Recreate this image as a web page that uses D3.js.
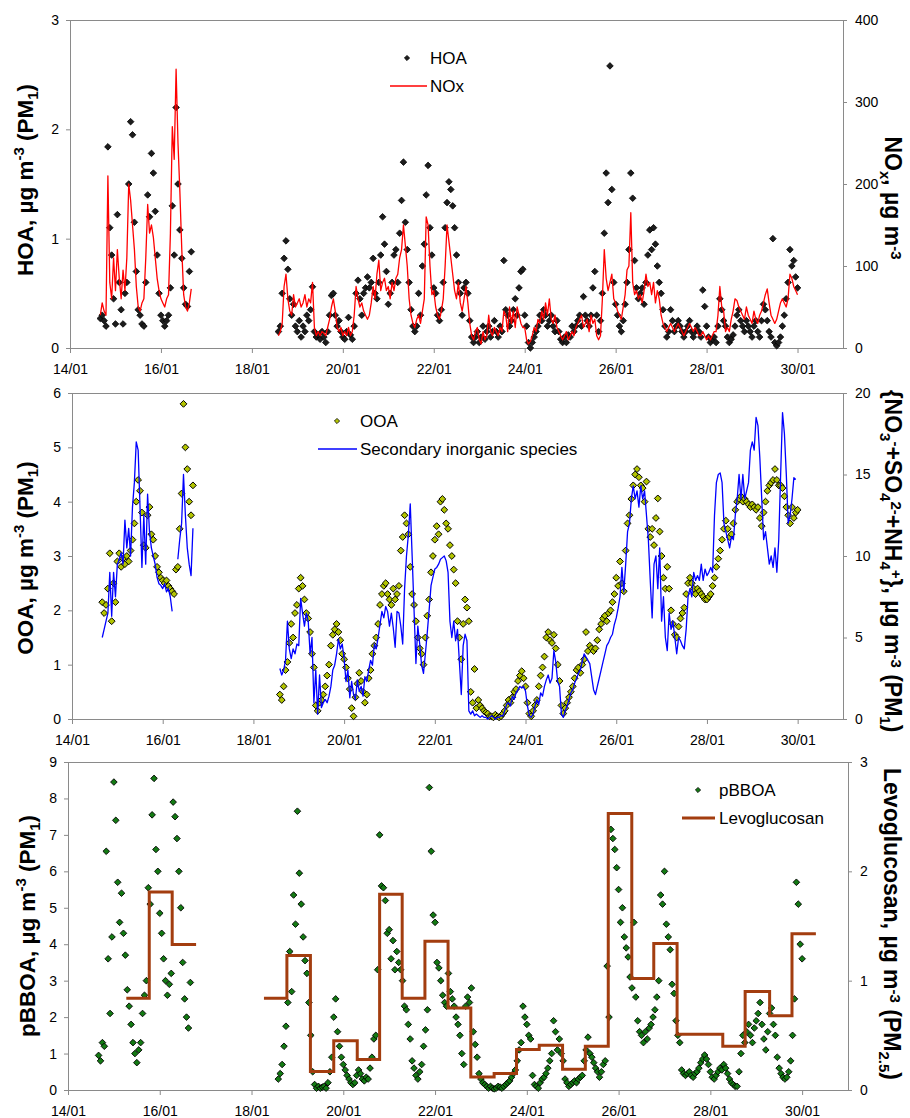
<!DOCTYPE html>
<html><head><meta charset="utf-8">
<script src="https://cdn.jsdelivr.net/npm/d3@7"></script>
<style>
body{margin:0;background:#fff;}
svg text{font-family:"Liberation Sans",Arial,sans-serif;fill:#000;}
</style></head><body>
<svg id="chart" width="910" height="1118"></svg>
<script>
// ---------- DATA (hours since 14/01 00:00, hourly values) ----------
const tickHours  = [0, 48, 96, 144, 192, 240, 288, 336, 384];
const tickLabels = ["14/01","16/01","18/01","20/01","22/01","24/01","26/01","28/01","30/01"];
const seg1Start = 16;   // 14/01 16:00
const seg2Start = 110;  // 18/01 14:00

// HOA, µg m-3
const hoa1 = [0.27,0.3,0.25,0.2,1.84,1.1,0.85,0.45,0.22,1.22,0.6,0.35,
 0.22,0.5,0.6,1.5,2.07,1.95,1.15,0.7,0.35,0.3,0.22,0.2,
 0.6,1.4,1.2,1.78,1.6,1.25,0.85,0.5,0.3,0.25,0.2,0.25,
 0.3,0.55,1.3,0.85,2.2,1.5,1.08,0.82,0.55,0.4,0.38,0.7,0.88];
const hoa2 = [0.15,0.2,0.5,0.82,0.98,0.72,0.45,0.3,0.4,0.2,0.15,0.25,
 0.1,0.2,0.15,0.3,0.25,0.35,0.56,0.15,0.1,0.12,0.08,0.15,
 0.1,0.05,0.15,0.3,0.48,0.5,0.3,0.2,0.25,0.15,0.1,0.08,
 0.15,0.28,0.12,0.08,0.2,0.5,0.62,0.45,0.3,0.5,0.55,0.65,
 0.55,0.6,0.82,0.5,0.45,0.6,0.85,1.2,0.95,0.7,0.4,0.5,
 0.6,0.85,0.9,0.6,1.05,1.35,1.7,1.15,0.9,0.6,0.35,0.2,
 0.15,0.2,0.5,0.3,0.75,0.95,1.4,1.67,1.1,0.85,0.55,0.5,
 0.3,0.25,0.35,0.6,1.1,1.33,1.52,1.45,1.3,1.1,0.85,0.6,
 0.5,0.3,0.55,0.6,0.5,0.25,0.1,0.05,0.1,0.15,0.05,0.1,
 0.2,0.08,0.15,0.2,0.1,0.15,0.25,0.15,0.1,0.2,0.15,0.8,
 0.35,0.3,0.2,0.25,0.35,0.45,0.3,0.55,0.7,0.72,0.3,0.2,
 0.05,0.0,0.05,0.1,0.15,0.2,0.3,0.25,0.35,0.3,0.2,0.25,
 0.3,0.2,0.15,0.25,0.15,0.08,0.05,0.1,0.05,0.12,0.1,0.2,
 0.15,0.2,0.25,0.3,0.2,0.47,0.3,0.25,0.2,0.3,0.55,0.7,
 0.3,0.15,0.25,0.5,1.05,1.6,1.33,2.58,1.45,0.6,0.4,0.3,
 0.2,0.15,0.25,0.4,0.6,0.9,1.6,1.37,0.8,0.55,0.45,0.5,
 0.55,0.4,0.6,0.85,1.08,0.9,1.1,0.95,0.75,0.6,0.5,0.35,
 0.2,0.1,0.15,0.35,0.25,0.15,0.2,0.25,0.2,0.15,0.1,0.15,
 0.2,0.25,0.15,0.1,0.15,0.2,0.15,0.1,0.53,0.38,0.2,0.1,
 0.05,0.08,0.1,0.05,0.2,0.45,0.35,0.25,0.2,0.1,0.05,0.08,
 0.12,0.2,0.3,0.35,0.25,0.2,0.15,0.25,0.2,0.15,0.1,0.2,
 0.25,0.15,0.1,0.25,0.4,0.35,0.25,0.15,0.1,1.0,0.05,0.02,
 0.05,0.1,0.2,0.3,0.45,0.6,0.9,0.75,0.8,0.65,0.55];

// NOx, µg m-3
const nox1 = [40,55,45,40,210,80,60,110,70,120,85,60,
 95,70,110,200,180,150,120,75,50,45,55,60,
 110,175,140,150,135,110,85,70,60,55,50,60,
 65,140,270,230,340,250,190,120,65,50,45,55,72];
const nox2 = [15,20,30,75,90,60,45,40,65,50,55,60,
 50,55,65,50,60,55,80,25,15,20,15,20,
 18,15,25,35,50,60,45,25,20,25,15,20,
 15,25,15,20,40,75,60,50,55,45,40,35,
 40,55,75,60,90,107,70,80,85,70,75,60,
 80,70,85,90,110,120,150,125,100,60,40,30,
 25,35,40,30,45,60,160,150,100,65,70,50,
 40,35,45,60,100,150,130,110,90,70,60,80,
 55,45,60,75,55,30,15,10,20,25,10,5,
 20,10,15,40,20,15,25,20,15,25,20,45,
 40,20,50,30,45,25,50,40,30,25,25,10,
 5,8,15,25,20,35,30,45,35,55,40,60,
 35,30,40,25,20,15,10,15,20,10,15,20,
 15,25,30,35,40,25,30,35,20,40,30,35,
 15,10,15,60,120,85,70,80,90,60,55,45,
 40,35,50,65,95,100,165,80,65,70,60,65,
 55,70,90,75,80,65,80,55,70,60,40,30,
 25,20,25,30,25,20,25,30,25,20,15,20,
 25,30,25,20,25,20,15,15,20,15,10,15,
 10,15,20,20,40,75,50,45,20,25,20,35,
 45,60,58,50,45,40,35,50,40,35,30,45,
 35,30,40,45,55,65,72,55,40,35,30,35,
 45,55,60,55,50,60,90,85,75,70,65];

// OOA, µg m-3
const ooa1 = [2.15,1.95,2.1,2.4,3.05,1.8,2.5,2.15,2.9,3.05,2.8,2.95,
 2.85,3.0,2.9,3.1,3.3,3.6,4.0,4.4,4.2,3.8,3.2,3.15,
 3.75,3.9,3.4,3.3,3.0,2.8,2.7,2.6,2.55,2.5,2.55,2.45,
 2.4,2.35,2.3,2.75,2.8,3.5,4.15,5.8,5.0,4.6,4.0,3.75,4.3];
const ooa2 = [0.45,0.35,0.6,0.9,1.05,1.4,1.75,1.5,1.95,2.1,2.4,2.6,
 2.45,2.2,1.95,1.85,1.6,1.2,0.95,0.25,0.15,0.3,0.35,0.45,
 0.6,0.8,1.0,1.35,1.55,1.65,1.75,1.6,1.45,1.2,1.1,0.95,
 0.75,0.55,0.2,0.05,0.4,0.65,0.85,0.7,0.5,0.3,0.45,0.75,
 0.9,1.2,1.35,1.5,1.75,2.1,2.3,2.45,2.5,2.3,2.2,2.1,
 2.4,2.2,2.3,2.45,3.1,3.35,3.75,3.6,3.4,2.8,2.3,2.1,
 1.8,1.5,1.3,1.2,1.0,1.5,1.9,2.2,2.7,3.0,3.3,3.55,
 3.4,4.0,4.05,3.85,3.6,3.5,3.2,3.0,2.75,2.5,1.8,1.5,
 1.1,1.75,2.2,2.05,1.8,0.5,0.3,0.92,0.2,0.35,0.25,0.2,
 0.15,0.12,0.1,0.05,0.05,0.03,0.08,0.05,0.03,0.05,0.1,0.15,
 0.25,0.35,0.3,0.4,0.5,0.55,0.7,0.8,0.88,0.75,0.6,0.3,
 0.1,0.05,0.15,0.25,0.35,0.6,0.8,0.95,1.15,1.5,1.6,1.45,
 1.4,1.55,1.3,1.0,0.7,0.25,0.1,0.2,0.3,0.4,0.5,0.6,
 0.75,0.9,0.95,0.85,1.0,1.1,1.6,1.25,1.35,1.3,1.25,1.3,
 1.45,1.65,1.75,1.85,1.9,1.8,1.95,2.0,2.15,2.3,2.6,2.45,
 2.9,2.5,2.35,3.1,3.6,3.75,4.05,4.3,4.5,4.6,4.45,4.3,
 4.25,4.0,4.37,3.5,3.35,3.5,3.2,3.7,4.06,3.45,3.0,2.6,
 2.4,2.8,2.4,2.0,1.75,1.55,1.5,1.7,1.85,1.95,2.05,2.3,
 2.5,2.6,2.5,2.4,2.3,2.4,2.35,2.3,2.25,2.2,2.2,2.25,
 2.3,2.45,2.6,2.8,2.95,3.1,3.3,3.5,3.65,3.5,3.35,3.4,
 3.6,3.85,4.0,4.05,4.1,4.0,4.05,4.0,3.95,3.9,3.95,3.9,
 3.85,3.9,3.7,3.55,3.8,4.0,4.2,4.3,4.35,4.4,4.6,4.4,
 4.3,4.3,4.25,4.1,3.9,3.75,3.6,3.9,3.7,3.8,3.85];

// Secondary inorganic species {NO3- + SO4 2- + NH4+}, µg m-3
const sia1 = [5.0,5.5,6.0,6.5,9.0,6.3,9.0,7.5,9.5,9.8,10.2,9.5,
 12.2,10.5,11.7,10.0,13.0,14.5,17.0,16.5,13.0,9.3,12.5,9.5,
 13.8,11.5,10.5,10.0,9.5,8.7,8.3,8.2,8.0,8.3,7.8,8.0,
 7.5,6.6,null,null,9.8,11.0,12.0,15.0,12.5,10.5,9.5,8.8,11.7];
const sia2 = [3.1,2.7,3.0,3.6,6.0,4.3,3.7,4.3,4.0,4.6,4.5,7.4,
 6.5,5.7,6.5,6.0,4.0,5.0,1.0,3.0,0.3,2.7,0.7,1.0,
 1.2,1.0,1.4,2.0,3.0,3.3,4.0,4.9,4.3,4.6,3.7,2.3,
 3.0,1.3,2.3,1.5,1.2,2.4,1.7,2.0,1.4,2.6,2.3,3.0,
 3.6,3.3,4.6,4.3,5.0,5.8,6.6,6.2,6.9,6.6,5.7,6.5,
 5.6,4.4,6.6,6.5,5.7,4.6,8.0,10.0,11.3,13.2,10.0,6.7,
 3.4,5.7,4.6,3.3,2.8,4.0,5.3,6.7,8.2,8.7,9.2,9.3,
 9.5,9.8,9.9,10.0,9.7,9.0,6.0,5.0,6.0,4.8,5.5,3.5,
 1.5,4.5,5.2,4.8,0.5,0.3,0.5,0.2,0.3,0.2,0.1,0.2,
 0.1,0.1,0.0,0.1,0.2,0.1,0.0,0.1,0.1,0.2,0.2,0.5,
 0.9,1.0,0.8,1.4,1.2,1.6,1.8,2.0,1.9,2.0,1.7,0.8,
 0.2,0.1,0.3,0.8,1.2,0.9,1.6,1.4,2.0,2.4,2.7,2.2,
 2.5,4.2,3.5,2.3,2.0,0.3,0.1,0.5,0.8,1.2,1.6,1.8,
 2.2,2.5,2.8,3.0,3.5,4.0,3.8,3.6,3.4,2.6,1.8,1.5,
 2.0,2.5,3.0,3.5,4.0,4.5,4.7,5.0,5.2,5.8,6.2,6.8,
 7.5,9.3,7.8,9.5,11.5,12.0,13.5,14.3,13.5,14.0,13.0,14.3,
 13.5,14.0,12.5,11.0,8.5,6.2,9.5,10.0,8.0,10.5,6.0,7.5,
 5.0,4.2,6.5,5.5,6.0,5.0,4.0,5.0,4.8,4.5,4.3,5.5,
 7.5,8.0,7.5,9.0,8.5,8.8,8.5,9.5,8.5,9.2,8.8,9.0,
 9.3,9.0,12.5,14.5,15.0,15.1,14.5,12.0,11.5,11.0,10.5,11.2,
 11.0,12.5,13.5,15.0,13.5,15.0,13.5,14.0,14.5,16.5,17.0,16.5,
 18.5,18.0,16.0,13.5,11.0,11.5,10.5,9.5,10.0,9.3,10.5,9.0,
 11.0,15.0,18.8,17.5,15.0,12.0,12.5,13.5,14.8,14.7,null];

// pBBOA, µg m-3
const pbboa1 = [0.95,0.8,1.3,1.2,6.55,3.6,2.1,4.2,8.45,7.4,5.7,4.6,
 5.4,4.3,3.7,2.75,2.3,1.8,1.3,1.0,0.75,1.1,1.3,2.1,
 2.6,3.0,5.55,5.1,7.55,8.55,6.6,6.0,4.85,4.3,3.6,3.0,
 2.6,2.9,3.2,7.9,7.5,6.9,6.0,5.0,3.5,2.5,2.0,1.7,2.95];
const pbboa2 = [0.3,0.45,0.7,1.2,1.75,2.4,3.8,2.7,5.35,4.55,7.65,5.95,
 5.1,4.2,3.55,3.2,2.4,1.5,0.5,0.15,0.05,0.1,0.05,0.08,
 0.1,0.05,0.2,0.5,0.9,2.0,2.5,1.6,1.2,0.9,0.7,0.55,
 0.4,0.3,0.2,0.15,0.2,0.4,0.55,0.45,0.3,0.25,0.35,0.3,
 0.6,0.9,1.4,1.5,3.3,7.0,5.6,5.55,5.2,4.3,4.4,3.6,
 4.1,3.3,3.8,3.5,3.3,3.0,2.3,2.2,1.8,1.4,0.8,0.6,
 0.4,0.3,0.5,0.7,1.2,1.65,2.2,8.3,6.55,4.8,4.6,3.5,
 3.35,3.0,2.6,2.4,2.3,3.2,2.7,2.5,2.3,2.0,1.8,1.5,
 1.0,0.7,2.3,2.55,2.4,2.8,1.6,1.25,0.9,0.45,0.3,0.2,
 0.15,0.1,0.05,0.1,0.05,0.03,0.05,0.1,0.08,0.05,0.1,0.15,
 0.2,0.25,0.35,0.45,0.55,0.8,1.1,1.3,2.3,2.0,1.8,1.5,
 1.4,0.4,0.15,0.1,0.05,0.2,0.3,0.35,0.45,0.6,0.8,1.0,
 1.9,1.6,1.1,1.4,1.0,0.8,0.3,0.2,0.1,0.15,0.2,0.25,
 0.2,0.3,0.35,0.4,0.8,1.1,1.45,1.0,0.9,0.75,0.6,0.5,
 0.35,0.5,0.7,0.8,3.4,2.0,7.15,6.9,6.6,6.1,5.5,4.6,
 5.0,4.2,3.9,3.65,3.1,2.8,4.6,2.55,1.9,1.6,1.5,1.3,
 1.6,1.4,1.7,1.8,2.0,2.2,2.55,3.0,5.35,5.1,6.0,4.55,
 4.2,3.85,2.9,2.65,1.9,1.5,1.3,0.55,0.45,0.4,0.45,0.5,
 0.4,0.35,0.45,0.5,0.6,0.75,0.85,0.96,0.85,0.7,0.5,0.35,
 0.3,0.4,0.5,0.6,0.55,0.7,0.6,0.45,0.3,0.2,0.15,0.1,
 0.1,0.5,1.0,1.5,1.3,1.6,1.8,1.5,1.3,1.7,1.9,2.1,
 2.4,1.8,1.4,1.1,1.6,2.1,2.25,1.8,1.5,0.9,0.6,0.45,
 0.35,0.3,0.35,0.5,0.8,1.5,2.5,5.7,5.1,4.0,3.6];

// Levoglucosan (PM2.5), µg m-3 : filter samples (start hour, value), each segment closed by an end hour
const levoStart1 = [30.5, 42.5, 54.5];
const levoValue1 = [0.84, 1.81, 1.33];
const levoEnd1 = 67;
const levoStart2 = [102.5,114.5,126.8,139,151.3,163,174.8,186.7,198.8,210.7,222.9,234.6,
 246.5,258.7,270.6,282.6,294.9,306.4,318.6,330.5,342.5,354.2,367,378.7];
const levoValue2 = [0.84,1.23,0.17,0.45,0.28,1.79,0.84,1.36,0.75,0.12,0.15,0.37,
 0.41,0.19,0.40,2.53,1.02,1.34,0.51,0.51,0.40,0.90,0.68,1.43];
const levoEnd2 = 391.2;

// ---------- DRAWING ----------
const svg = d3.select("#chart");
const AX = "#8a8a8a";
const HOURS = [0, 408];

function pts(start, arr){ return arr.map((v,i)=>({h:start+i, v:v})); }

const panels = [
  {left:70, right:843, top:20, bottom:348, yL:[0,3], yR:[0,400],
   tL:[0,1,2,3], tR:[0,100,200,300,400]},
  {left:72, right:843, top:393, bottom:719, yL:[0,6], yR:[0,20],
   tL:[0,1,2,3,4,5,6], tR:[0,5,10,15,20]},
  {left:68, right:848, top:762, bottom:1090, yL:[0,9], yR:[0,3],
   tL:[0,1,2,3,4,5,6,7,8,9], tR:[0,1,2,3]}
];

function styleAxis(g){
  g.selectAll("path.domain").attr("stroke",AX).attr("stroke-width",1);
  g.selectAll(".tick line").attr("stroke",AX).attr("stroke-width",1);
  g.selectAll(".tick text").attr("font-size","14px").attr("fill","#000")
    .attr("font-family",'"Liberation Sans",Arial,sans-serif');
}

function setup(p){
  const x = d3.scaleLinear().domain(HOURS).range([p.left,p.right]);
  const yL = d3.scaleLinear().domain(p.yL).range([p.bottom,p.top]);
  const yR = d3.scaleLinear().domain(p.yR).range([p.bottom,p.top]);
  const g = svg.append("g");
  g.append("line").attr("x1",p.left).attr("x2",p.right).attr("y1",p.top+0.5).attr("y2",p.top+0.5).attr("stroke",AX);
  g.append("g").attr("transform",`translate(0,${p.bottom})`)
    .call(d3.axisBottom(x).tickValues(tickHours).tickFormat((d,i)=>tickLabels[i])
      .tickSizeInner(5).tickSizeOuter(0).tickPadding(11)).call(styleAxis);
  g.append("g").attr("transform",`translate(${p.left},0)`)
    .call(d3.axisLeft(yL).tickValues(p.tL).tickFormat(d3.format("d"))
      .tickSizeInner(4).tickSizeOuter(0).tickPadding(7)).call(styleAxis);
  g.append("g").attr("transform",`translate(${p.right},0)`)
    .call(d3.axisRight(yR).tickValues(p.tR).tickFormat(d3.format("d"))
      .tickSizeInner(4).tickSizeOuter(0).tickPadding(8)).call(styleAxis);
  return {x, yL, yR, g};
}

function diamond(r){ return `M0,${-r}L${r},0L0,${r}L${-r},0Z`; }

function scatter(P, data, fill, stroke, r, sw){
  P.g.append("g").selectAll("path").data(data.filter(d=>d.v!=null)).join("path")
    .attr("d", diamond(r))
    .attr("transform", d=>`translate(${P.x(d.h)},${P.yL(d.v)})`)
    .attr("fill", fill).attr("stroke", stroke).attr("stroke-width", sw);
}
function lineSeries(P, data, color, w){
  const ln = d3.line().defined(d=>d.v!=null).x(d=>P.x(d.h)).y(d=>P.yR(d.v));
  P.g.append("path").attr("d", ln(data)).attr("fill","none")
    .attr("stroke",color).attr("stroke-width",w).attr("stroke-linejoin","round");
}
function stepSeries(P, starts, vals, end, color, w){
  const d = [];
  starts.forEach((s,i)=>{
    const e = i < starts.length-1 ? starts[i+1] : end;
    d.push({h:s, v:vals[i]}); d.push({h:e, v:vals[i]});
  });
  const ln = d3.line().x(q=>P.x(q.h)).y(q=>P.yR(q.v));
  P.g.append("path").attr("d", ln(d)).attr("fill","none")
    .attr("stroke",color).attr("stroke-width",w).attr("stroke-linejoin","miter");
}

// rich text helper: parts = [[text, mode]] mode 0 normal, 1 sup, -1 sub
function rich(parent, parts, size, bold, supShift){
  const t = parent.append("text").attr("font-size", size+"px")
    .attr("font-weight", bold ? "bold" : "normal");
  let cur = 0;
  parts.forEach(([txt, m])=>{
    const target = m===1 ? -supShift*size : (m===-1 ? 0.22*size : 0);
    t.append("tspan").attr("dy", target-cur)
      .attr("font-size", (m===0 ? size : Math.round(size*0.66))+"px").text(txt);
    cur = target;
  });
  return t;
}
function title(x, y, rot, parts, size, supShift){
  const g = svg.append("g").attr("transform",`translate(${x},${y}) rotate(${rot})`);
  rich(g, parts, size, true, supShift).attr("text-anchor","middle");
}

const P1 = setup(panels[0]);
const P2 = setup(panels[1]);
const P3 = setup(panels[2]);

// Panel 1: HOA + NOx
scatter(P1, pts(seg1Start,hoa1), "#1c1c1c", "#000", 3.3, 0.8);
scatter(P1, pts(seg2Start,hoa2), "#1c1c1c", "#000", 3.3, 0.8);
lineSeries(P1, pts(seg1Start,nox1), "#ff0000", 1.3);
lineSeries(P1, pts(seg2Start,nox2), "#ff0000", 1.3);

// Panel 2: OOA + SIA
const OOA_FILL = "#b2c400";
scatter(P2, pts(seg1Start,ooa1), OOA_FILL, "#000", 3.4, 1);
scatter(P2, pts(seg2Start,ooa2), OOA_FILL, "#000", 3.4, 1);
lineSeries(P2, pts(seg1Start,sia1), "#0000ff", 1.3);
lineSeries(P2, pts(seg2Start,sia2), "#0000ff", 1.3);

// Panel 3: pBBOA + Levoglucosan
const BB_FILL = "#137a13";
scatter(P3, pts(seg1Start,pbboa1), BB_FILL, "#000", 3.3, 0.9);
scatter(P3, pts(seg2Start,pbboa2), BB_FILL, "#000", 3.3, 0.9);
const LEVO = "#a33d0f";
stepSeries(P3, levoStart1, levoValue1, levoEnd1, LEVO, 3);
stepSeries(P3, levoStart2, levoValue2, levoEnd2, LEVO, 3);

// Legends
function legend(mx, my, lx1, lx2, ly, tx, name1, name2, fill, stroke, color, lw){
  const g = svg.append("g");
  g.append("path").attr("d", diamond(2.6)).attr("transform",`translate(${mx},${my})`)
    .attr("fill",fill).attr("stroke",stroke).attr("stroke-width",0.8);
  g.append("line").attr("x1",lx1).attr("x2",lx2).attr("y1",ly).attr("y2",ly)
    .attr("stroke",color).attr("stroke-width",lw);
  g.append("text").attr("x",tx).attr("y",my+6).attr("font-size","17px").text(name1);
  g.append("text").attr("x",tx).attr("y",ly+6).attr("font-size","17px").text(name2);
}
legend(407, 58, 390, 427, 86, 430, "HOA", "NOx", "#1c1c1c", "#000", "#ff0000", 1.5);
legend(337, 421, 318, 357, 449, 360, "OOA", "Secondary inorganic species", OOA_FILL, "#000", "#0000ff", 1.5);
legend(698, 790, 682, 715, 818, 719, "pBBOA", "Levoglucosan", BB_FILL, "#000", LEVO, 3);

// Axis titles
title(33, 180, -90, [["HOA, µg m",0],["-3",1],[" (PM",0],["1",-1],[")",0]], 22.5, 0.42);
title(33, 558, -90, [["OOA, µg m",0],["-3",1],[" (PM",0],["1",-1],[")",0]], 22.5, 0.42);
title(35, 926, -90, [["pBBOA, µg m",0],["-3",1],[" (PM",0],["1",-1],[")",0]], 22.5, 0.42);
title(885, 198, 90, [["NO",0],["x",-1],[", µg m",0],["-3",1]], 23, 0.28);
title(885, 561, 90, [["{NO",0],["3",-1],["-",1],["+SO",0],["4",-1],["2-",1],["+NH",0],["4",-1],["+",1],["}, µg m",0],["-3",1],[" (PM",0],["1",-1],[")",0]], 23, 0.28);
title(884, 924, 90, [["Levoglucosan, µg m",0],["-3",1],[" (PM",0],["2.5",-1],[")",0]], 23, 0.28);
</script>
</body></html>
